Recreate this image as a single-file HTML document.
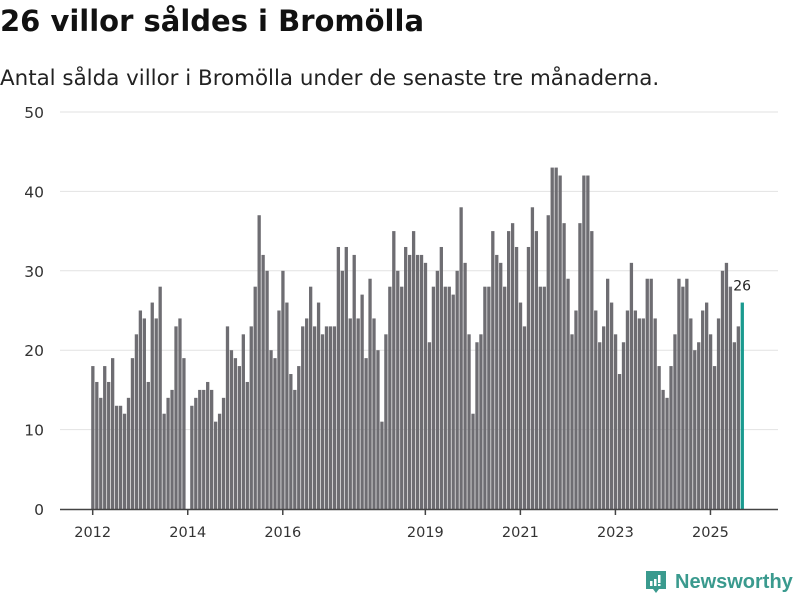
<!DOCTYPE html>
<html><head><meta charset="utf-8"><style>
body{margin:0;width:800px;height:600px;background:#fff;font-family:"DejaVu Sans","Liberation Sans",sans-serif;overflow:hidden;position:relative}
#title{position:absolute;left:0;top:4px;font-size:29px;font-weight:bold;color:#111;margin:0;white-space:nowrap;letter-spacing:0}
#sub{position:absolute;left:0;top:66px;font-size:21.4px;color:#222;white-space:nowrap}
#logo{position:absolute;left:644px;top:569px;display:flex;align-items:center;gap:7px;color:#3a9a8e;font-size:20px;font-weight:bold;font-family:"Liberation Sans",sans-serif}
</style></head><body>
<h1 id="title">26 villor såldes i Bromölla</h1>
<div id="sub">Antal sålda villor i Bromölla under de senaste tre månaderna.</div>
<svg id="chart" width="800" height="600" style="position:absolute;left:0;top:0"></svg>
<div id="logo">
<svg width="24" height="26" viewBox="0 0 24 26"><path d="M2 2h20v18h-7l-3 4-3-4H2z" fill="#3a9a8e"/><rect x="6" y="12" width="2.5" height="5" fill="#fff"/><rect x="10" y="10" width="2.5" height="7" fill="#fff"/><rect x="14" y="6" width="2.5" height="8" fill="#fff"/><rect x="14" y="15" width="2.5" height="2" fill="#fff"/></svg>
<span>Newsworthy</span></div>
<script>
const values=[18,16,14,18,16,19,13,13,12,14,19,22,25,24,16,26,24,28,12,14,15,23,24,19,
0,13,14,15,15,16,15,11,12,14,23,20,19,18,22,16,23,28,37,32,30,20,19,25,30,26,17,15,18,23,24,28,23,26,22,23,23,23,
33,30,33,24,32,24,27,19,29,24,20,11,22,28,35,30,28,33,32,35,32,32,31,21,
28,30,33,28,28,27,30,38,31,22,12,21,22,28,28,35,32,31,28,35,36,33,26,23,33,38,35,28,28,37,43,43,42,36,29,22,25,36,42,42,35,25,
21,23,29,26,22,17,21,25,31,25,24,24,29,29,24,18,15,14,18,22,29,28,29,24,20,21,25,26,22,18,24,30,31,28,21,23,26];
const yTicks=[0,10,20,30,40,50];
const xTickLabels=["2012","2014","2016","2019","2021","2023","2025"];
const xTickIndex=[0,24,48,84,108,132,156];
const NS="http://www.w3.org/2000/svg";
const svg=document.getElementById('chart');
const y0=509,yTop=112,x0=91.2,step=3.96;
const yS=v=>y0-(v/50)*(y0-yTop);
const xS=i=>x0+i*step;
const FF='DejaVu Sans, Liberation Sans, sans-serif';
function mk(t,a){const e=document.createElementNS(NS,t);for(const k in a)e.setAttribute(k,a[k]);svg.appendChild(e);return e;}
yTicks.forEach(v=>{
 if(v>0){const g=mk('line',{x1:60,x2:778,y1:yS(v),y2:yS(v),stroke:'#e2e2e2','stroke-width':1});
 
 }
 const t=mk('text',{x:44,y:yS(v)+6,'text-anchor':'end','font-size':15.5,fill:'#333','font-family':FF});
 t.textContent=v;
 
 
});
values.forEach((v,i)=>{
 if(v<=0)return;
 const last=i===values.length-1;
 const r=mk('rect',{x:xS(i),y:yS(v),width:3.3,height:y0-yS(v),fill:last?'#1a9a8f':'#6e6d72'});
 
 
});
const li=values.length-1;
const lab=mk('text',{x:xS(li)+1.5,y:yS(values[li])-12,'text-anchor':'middle','font-size':14,fill:'#222','font-family':FF});
lab.textContent=values[li];


const ax=mk('line',{x1:60,x2:778,y1:y0+0.5,y2:y0+0.5,stroke:'#444','stroke-width':1.5});


xTickLabels.forEach((s,k)=>{
 const x=xS(xTickIndex[k])+1.5;
 const tk=mk('line',{x1:x,x2:x,y1:y0,y2:y0+6,stroke:'#444','stroke-width':1.5});
 
 
 const t=mk('text',{x:x,y:537,'text-anchor':'middle','font-size':14.5,fill:'#333','font-family':FF});
 t.textContent=s;
 
 
});
</script>
</body></html>
